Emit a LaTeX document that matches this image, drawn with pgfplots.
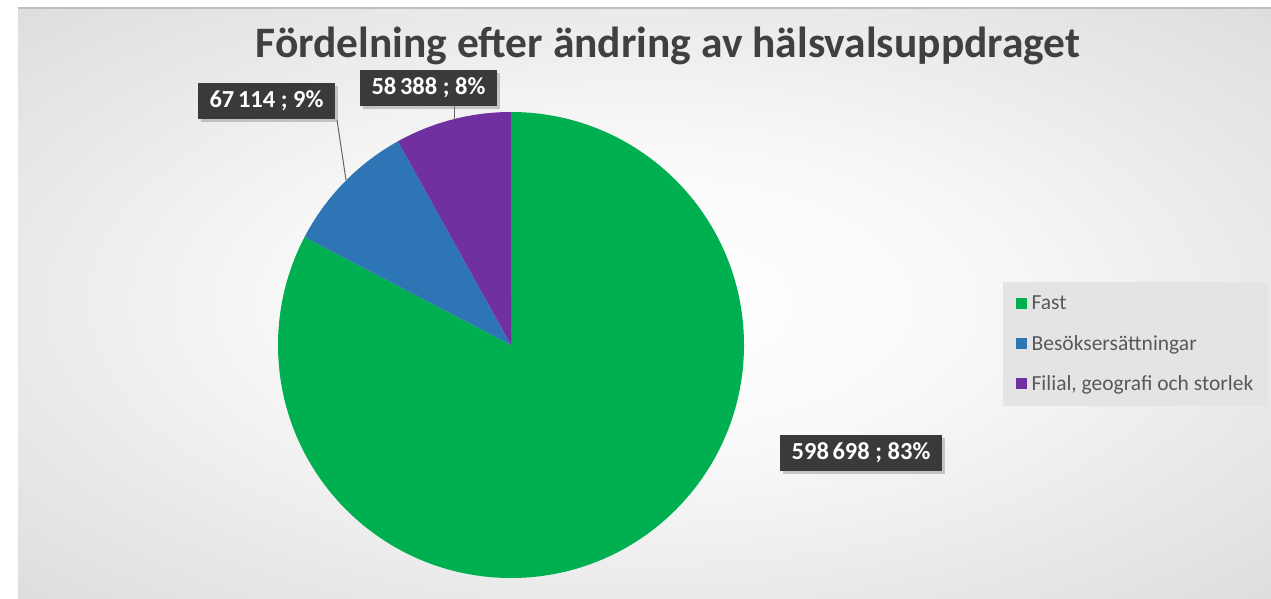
\documentclass[border=0pt]{standalone}
\usepackage{pgfplots}
\pgfplotsset{compat=1.18}
\usepackage{pgfplotstable}
\usepackage{fontspec}
\setmainfont{Carlito}
\usetikzlibrary{shadows}
\definecolor{cgreen}{HTML}{00B050}
\definecolor{cblue}{HTML}{2E75B6}
\definecolor{cpurple}{HTML}{7030A0}
\definecolor{ctitle}{HTML}{404040}
\definecolor{clabel}{HTML}{3A3A3A}
\definecolor{clegend}{HTML}{595959}
\definecolor{clegbg}{HTML}{E4E4E4}
\pgfdeclareradialshading{chartbg}{\pgfpoint{0bp}{0bp}}{%
  color(0bp)=(white); color(12bp)=(white!98!black); color(35bp)=(white!87!black);
  color(50bp)=(white!80!black); color(72bp)=(white!77!black)}

\pgfplotstableread{
idx value
0 598698
1 67114
2 58388
}\piedata

\begin{document}
\begin{tikzpicture}
\pgfplotstablegetelem{0}{value}\of\piedata \let\vA\pgfplotsretval
\pgfplotstablegetelem{1}{value}\of\piedata \let\vB\pgfplotsretval
\pgfplotstablegetelem{2}{value}\of\piedata \let\vC\pgfplotsretval
\pgfkeys{/pgf/fpu=true,/pgf/fpu/output format=fixed}
\pgfmathsetmacro\tot{\vA+\vB+\vC}
\pgfmathsetmacro\eA{90-360*\vA/\tot}
\pgfmathsetmacro\eB{\eA-360*\vB/\tot}
\pgfmathsetmacro\eC{\eB-360*\vC/\tot}
\pgfkeys{/pgf/fpu=false}
% chart area background
\shade[shading=chartbg] (18pt,0pt) rectangle (1271pt,590pt);
\draw[black!25, line width=1.2pt] (18pt,590pt) -- (1271pt,590pt);
\begin{axis}[
  at={(0pt,0pt)}, anchor=south west,
  scale only axis, width=1271pt, height=598pt,
  xmin=0, xmax=1271, ymin=0, ymax=598,
  hide axis, clip=false,
  legend style={at={(axis cs:1003,316)}, anchor=north west,
    draw=none, fill=clegbg,
    font=\fontsize{21.5}{25}\selectfont, text=clegend,
    row sep=20pt, inner xsep=13pt, inner ysep=12pt,
    /tikz/every odd column/.append style={column sep=3pt}},
  legend cell align=left,
]
\fill[cgreen] (axis cs:511,253) -- ++(90:233pt) arc[start angle=90, end angle=\eA, radius=233pt] -- cycle;
\fill[cblue] (axis cs:511,253) -- ++(\eA:233pt) arc[start angle=\eA, end angle=\eB, radius=233pt] -- cycle;
\fill[cpurple] (axis cs:511,253) -- ++(\eB:233pt) arc[start angle=\eB, end angle=\eC, radius=233pt] -- cycle;

\addlegendimage{legend image code/.code={\fill[cgreen] (0pt,-4pt) rectangle (10pt,6pt);}}
\addlegendentry{Fast}
\addlegendimage{legend image code/.code={\fill[cblue] (0pt,-4pt) rectangle (10pt,6pt);}}
\addlegendentry{Besöksersättningar}
\addlegendimage{legend image code/.code={\fill[cpurple] (0pt,-4pt) rectangle (10pt,6pt);}}
\addlegendentry{Filial, geografi och storlek}

% leader lines
\draw[black!60, line width=1pt] (axis cs:337,478) -- (axis cs:346,418);
\draw[black!60, line width=1pt] (axis cs:454,493) -- (axis cs:454,478);

% data labels
\tikzset{dlabel/.style={fill=clabel, text=white, font=\bfseries\fontsize{24.5}{28}\selectfont,
  inner sep=0pt, minimum height=36pt,
  drop shadow={opacity=0.4, shadow xshift=3pt, shadow yshift=-3pt}}}
\node[dlabel, minimum width=137pt] at (axis cs:266.5,497) {67\hspace{0.15em}114 ; 9\%};
\node[dlabel, minimum width=137pt] at (axis cs:428.5,510) {58\hspace{0.15em}388 ; 8\%};
\node[dlabel, minimum width=162pt] at (axis cs:861,145.5) {598\hspace{0.15em}698 ; 83\%};

% title
\node[font=\bfseries\fontsize{43.5}{50}\selectfont, text=ctitle, anchor=base] at (axis cs:668,540.5) {Fördelning efter ändring av hälsvalsuppdraget};
\end{axis}
\pgfresetboundingbox
\path (0pt,0pt) rectangle (1271pt,598pt);
\end{tikzpicture}
\end{document}
